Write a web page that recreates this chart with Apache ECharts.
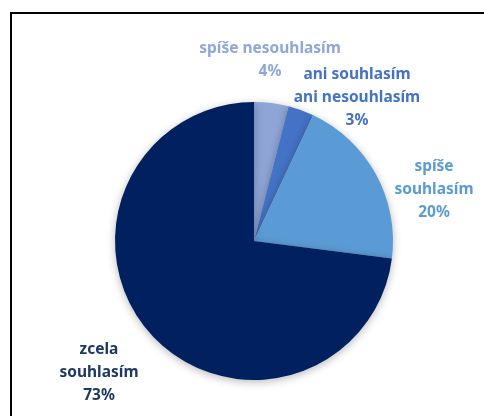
<!DOCTYPE html>
<html>
<head>
<meta charset="utf-8">
<script src="https://cdn.jsdelivr.net/npm/echarts@6/dist/echarts.min.js"></script>
<style>
  html, body { margin: 0; padding: 0; background: #fff; }
  #chart { width: 484px; height: 416px; }
</style>
</head>
<body>
<div id="chart"></div>
<script>
// Answer categories, clockwise from 12 o'clock
const categories = ['spíše nesouhlasím', 'ani souhlasím ani nesouhlasím', 'spíše souhlasím', 'zcela souhlasím'];
// Share of respondents, percent
const values = [4, 3, 20, 73];
// Label text split into the lines that are drawn
const labelLines = [
  ['spíše nesouhlasím'],
  ['ani souhlasím', 'ani nesouhlasím'],
  ['spíše', 'souhlasím'],
  ['zcela', 'souhlasím']
];

const sliceColors = ['#8FA5D6', '#4472C4', '#5B9BD5', '#002060'];
const textColors = ['#8EA7D9', '#4472C4', '#5B9BD5', '#1F3864'];
// Label anchor points (block centres) for each slice
const labelSpots = [[270, 60], [357, 98], [434, 190], [99, 373]];

const chart = echarts.init(document.getElementById('chart'));

chart.setOption({
  animation: false,
  graphic: [{
    type: 'rect',
    shape: { x: 11, y: 13, width: 600, height: 600 },
    style: { fill: 'none', stroke: '#000', lineWidth: 2 },
    silent: true
  }],
  series: [{
    type: 'pie',
    center: [254, 241],
    radius: 139,
    startAngle: 90,
    clockwise: true,
    avoidLabelOverlap: false,
    data: categories.map((name, i) => ({
      name,
      value: values[i],
      itemStyle: { color: sliceColors[i] },
      label: { color: textColors[i] }
    })),
    itemStyle: {
      borderWidth: 0,
      shadowBlur: 8,
      shadowColor: 'rgba(0,0,0,0.28)',
      shadowOffsetY: 2
    },
    label: {
      show: true,
      position: 'outside',
      fontFamily: '"Noto Sans", "Open Sans", sans-serif',
      fontWeight: 'bold',
      fontSize: 15.5,
      lineHeight: 23,
      align: 'center',
      formatter: p => labelLines[p.dataIndex].concat([p.value + '%']).join('\n')
    },
    labelLine: { show: false },
    labelLayout: p => ({
      x: labelSpots[p.dataIndex][0],
      y: labelSpots[p.dataIndex][1],
      align: 'center',
      verticalAlign: 'middle'
    }),
    emphasis: { disabled: true }
  }]
});
</script>
</body>
</html>
